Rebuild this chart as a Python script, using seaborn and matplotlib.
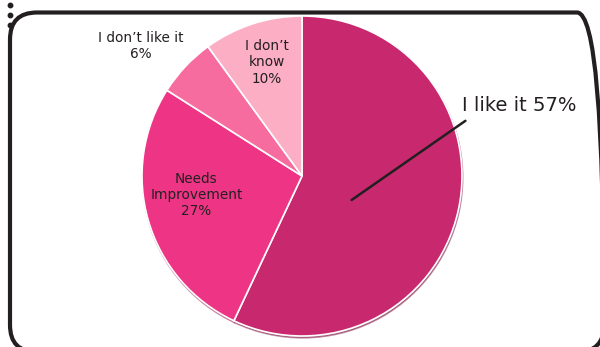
import matplotlib
matplotlib.use("Agg")
import matplotlib.pyplot as plt
import seaborn as sns
from matplotlib.patches import FancyBboxPatch

sns.set_theme(style="white")
plt.rcParams["font.family"] = ["DejaVu Sans"]

# Survey responses, drawn clockwise from 12 o'clock
categories = ["I like it", "Needs\nImprovement", "I don\u2019t like it", "I don\u2019t\nknow"]
shares = [57, 27, 6, 10]
colors = ["#C8296E", "#EE3585", "#F76C9E", "#FCAFC4"]

TEXT = "#231F20"

fig = plt.figure(figsize=(6.0, 3.47), dpi=100)
W, H = 600, 347

# Rounded frame around the chart (in inches so the corners stay circular);
# it runs slightly past the right and bottom edges of the canvas
frame = FancyBboxPatch((0.10, -0.05), 6.04 - 0.10, 3.47 - 0.125 + 0.05,
                       boxstyle="round,pad=0,rounding_size=0.27",
                       transform=fig.dpi_scale_trans, fill=False,
                       edgecolor=TEXT, linewidth=3, zorder=0)
fig.patches.append(frame)
# dotted connector at the top-left edge
fig.lines.append(plt.Line2D([0.10, 0.10, 0.10], [3.47 - 0.05, 3.47 - 0.15, 3.47 - 0.25],
                            transform=fig.dpi_scale_trans, color=TEXT,
                            linestyle="none", marker="o", markersize=3.2))

cx, cy, r = 302, 176, 160
ax = fig.add_axes([(cx - r) / W, (H - cy - r) / H, 2 * r / W, 2 * r / H])

ax.pie(shares, colors=colors, startangle=90, counterclock=False, radius=1,
       wedgeprops=dict(edgecolor="white", linewidth=1.2),
       shadow=dict(ox=0.003, oy=-0.008, shade=0.35))
ax.set_xlim(-1, 1)
ax.set_ylim(-1, 1)
ax.axis("off")

small = dict(fontsize=9.8, color=TEXT, ha="center", va="center",
             linespacing=1.2)
ax.text(-0.66, -0.12, f"{categories[1]}\n{shares[1]}%", **small)
ax.text(-1.01, 0.81, f"{categories[2]}\n{shares[2]}%", **small, clip_on=False)
ax.text(-0.22, 0.71, f"{categories[3]}\n{shares[3]}%", **small)

ax.annotate(f"{categories[0]} {shares[0]}%", xy=(0.31, -0.15),
            xytext=(1.0, 0.44), fontsize=14, color=TEXT,
            ha="left", va="center", annotation_clip=False,
            arrowprops=dict(arrowstyle="-", color=TEXT, lw=1.8,
                            shrinkA=0, shrinkB=0,
                            relpos=(0.03, -0.3)))

fig.savefig("out.png", dpi=100)
